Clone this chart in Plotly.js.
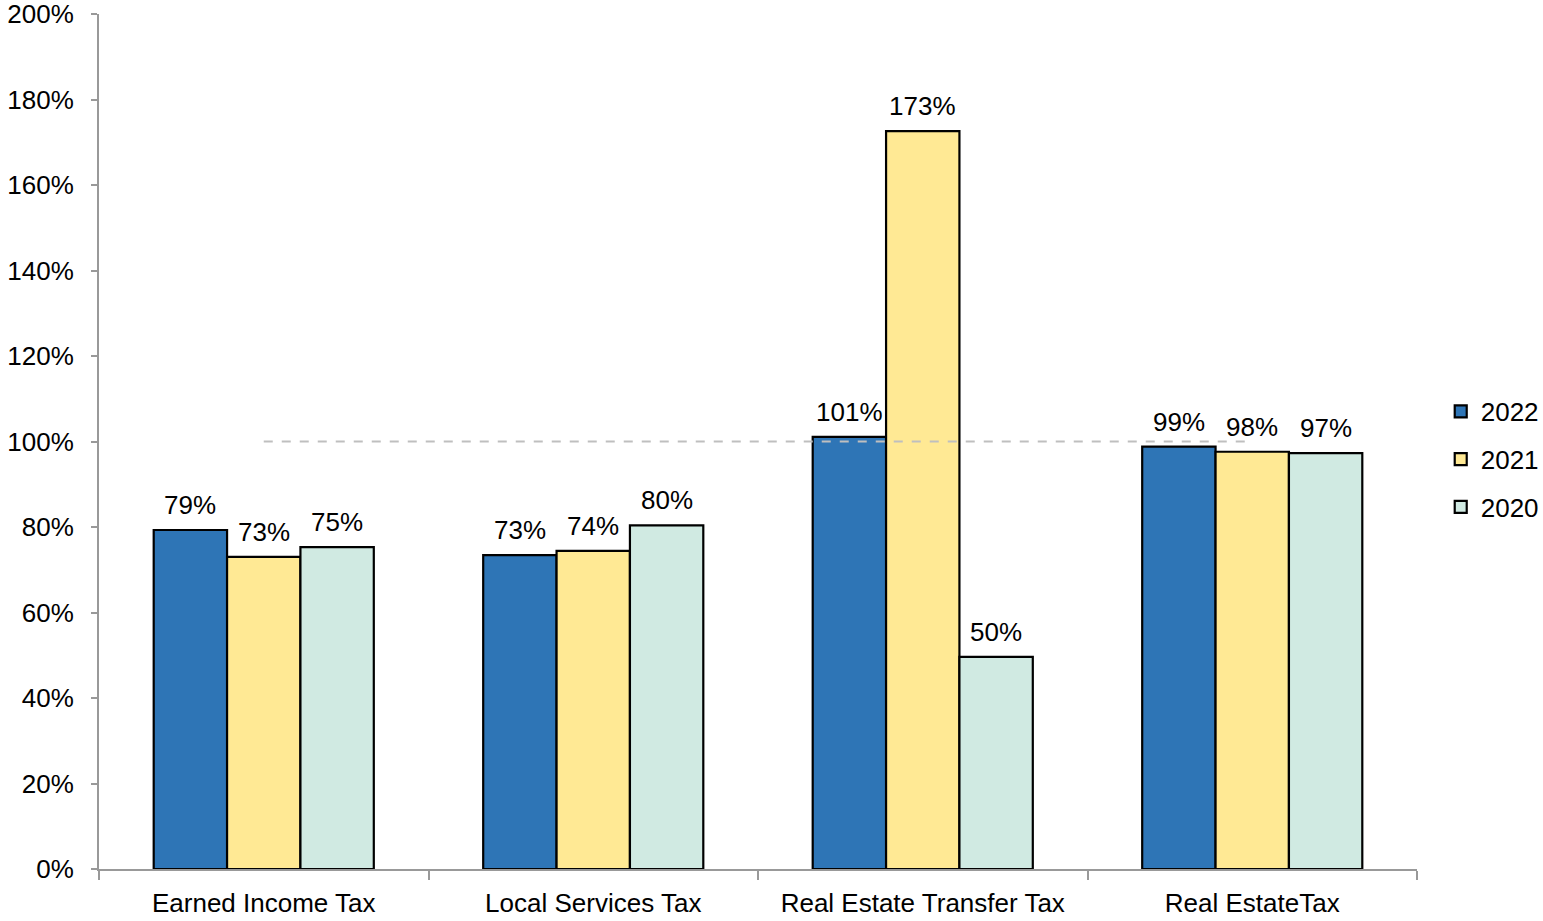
<!DOCTYPE html>
<html>
<head>
<meta charset="utf-8">
<script src="https://cdn.plot.ly/plotly-3.0.1.min.js"></script>
<style>html,body{margin:0;padding:0;background:#fff;}#chart{width:1543px;height:921px;}</style>
</head>
<body>
<div id="chart"></div>
<script>
const categories = ["Earned Income Tax", "Local Services Tax", "Real Estate Transfer Tax", "Real EstateTax"];
const values2022 = [79.3, 73.4, 101.1, 98.8];
const values2021 = [73.0, 74.4, 172.6, 97.6];
const values2020 = [75.3, 80.4, 49.6, 97.3];
const targetLine = [100, 100, 100, 100];
const seriesNames = ["2022", "2021", "2020"];
const seriesColors = ["#2E75B6", "#FFE994", "#D0EAE2"];
const yTickVals = [0, 20, 40, 60, 80, 100, 120, 140, 160, 180, 200];
const yTickText = ["0%", "20%", "40%", "60%", "80%", "100%", "120%", "140%", "160%", "180%", "200%"];

const FONT = "Liberation Sans, Arial, sans-serif";
const W = 1543, H = 921;
const margin = {l: 99, r: 126, t: 14, b: 52, autoexpand: false};
const bargap = 0.332;

const allSeries = [values2022, values2021, values2020];
const traces = allSeries.map((vals, i) => ({
  type: "bar",
  name: seriesNames[i],
  x: categories,
  y: vals,
  legendgroup: "g" + i,
  marker: {color: seriesColors[i], line: {color: "#000", width: 2.2}},
  hoverinfo: "x+y"
}));
traces.push({
  type: "scatter",
  mode: "lines",
  x: categories,
  y: targetLine,
  showlegend: false,
  line: {color: "#BFBFBF", width: 2, dash: "dash"},
  hoverinfo: "skip"
});

// value labels above bars (through the axis scales; xshift = group offset of bar in pixels)
const plotW = W - margin.l - margin.r;
const barPx = plotW / categories.length * (1 - bargap) / allSeries.length;
const annotations = [];
allSeries.forEach((vals, i) => {
  vals.forEach((v, j) => {
    annotations.push({
      x: categories[j], y: v, xref: "x", yref: "y",
      text: Math.round(v) + "%",
      showarrow: false, yanchor: "bottom",
      xshift: (i - (allSeries.length - 1) / 2) * barPx,
      yshift: 8,
      font: {family: FONT, size: 26, color: "#000"}
    });
  });
});

const layout = {
  width: W, height: H,
  margin: margin,
  paper_bgcolor: "#fff", plot_bgcolor: "#fff",
  font: {family: FONT, size: 26, color: "#000"},
  barmode: "group",
  bargap: bargap,
  bargroupgap: 0,
  showlegend: true,
  legend: {x: 1.018, xanchor: "left", y: 0.479, yanchor: "middle", traceorder: "grouped", tracegroupgap: 11,
           itemwidth: 30,
           font: {family: FONT, size: 26, color: "#000"}, bgcolor: "rgba(0,0,0,0)"},
  annotations: annotations,
  xaxis: {
    showgrid: false, showline: true, linecolor: "#999", linewidth: 2,
    ticks: "outside", tickson: "boundaries", ticklen: 9, tickcolor: "#999", tickwidth: 2,
    ticklabelstandoff: 10,
    tickfont: {family: FONT, size: 26, color: "#000"}, zeroline: false
  },
  yaxis: {
    range: [0, 200], tickmode: "array", tickvals: yTickVals, ticktext: yTickText,
    ticklabeloverflow: "allow",
    showgrid: false, showline: true, linecolor: "#999", linewidth: 2,
    ticks: "outside", ticklen: 6, tickcolor: "#999", tickwidth: 2,
    ticklabelstandoff: 12,
    tickfont: {family: FONT, size: 26, color: "#000"}, zeroline: false
  }
};

Plotly.newPlot("chart", traces, layout, {displayModeBar: false, staticPlot: true});
</script>
</body>
</html>
